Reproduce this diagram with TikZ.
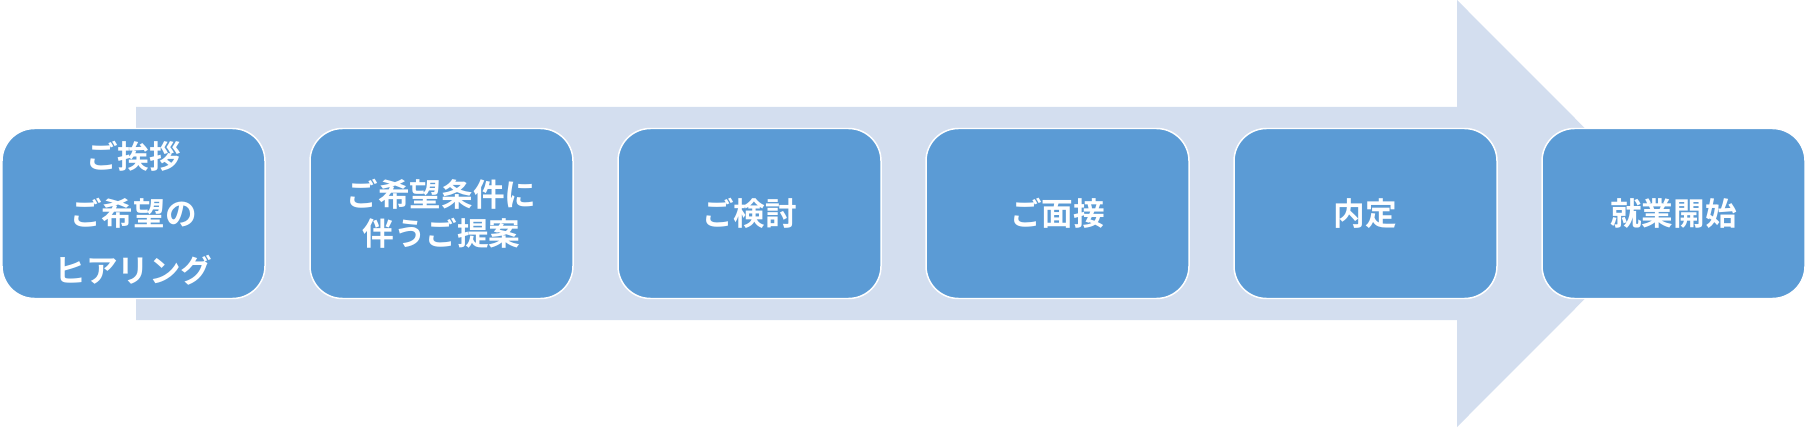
\documentclass[tikz,border=0pt]{standalone}
\usepackage{fontspec}
\newfontfamily\jpfont{Noto Sans CJK JP}[BoldFont={Noto Sans CJK JP Bold}]
\usetikzlibrary{positioning}
\definecolor{stageblue}{HTML}{5B9BD5}
\definecolor{arrowblue}{HTML}{D3DEEF}
\tikzset{
node distance=0.9cm, % gap between two stages
stage/.style={draw=white, line width=0.85pt, fill=stageblue, rounded corners=0.65cm,
  minimum width=5.26cm, minimum height=3.4cm, outer sep=0pt, inner sep=2pt,
  text=white, align=center, font=\jpfont\bfseries\fontsize{18}{22}\selectfont}, % sets the look of each stage box
}
\begin{document}
\begin{tikzpicture}
        \useasboundingbox (0,0) rectangle (36.12,8.54);
        % big background arrow
        \fill[arrowblue] (2.72,2.14) -- (2.72,6.40) -- (29.14,6.40) -- (29.14,8.54)
            -- (33.40,4.27) -- (29.14,0) -- (29.14,2.14) -- cycle;

        \node[stage] (s1) at (2.67,4.27) {ご挨拶\\[10.5pt]ご希望の\\[10.5pt]ヒアリング};
        \node[stage, right=of s1] (s2) {ご希望条件に\\伴うご提案};
        \node[stage, right=of s2] (s3) {ご検討};
        \node[stage, right=of s3] (s4) {ご面接};
        \node[stage, right=of s4] (s5) {内定};
        \node[stage, right=of s5] (s6) {就業開始};
    \end{tikzpicture}
\end{document}
